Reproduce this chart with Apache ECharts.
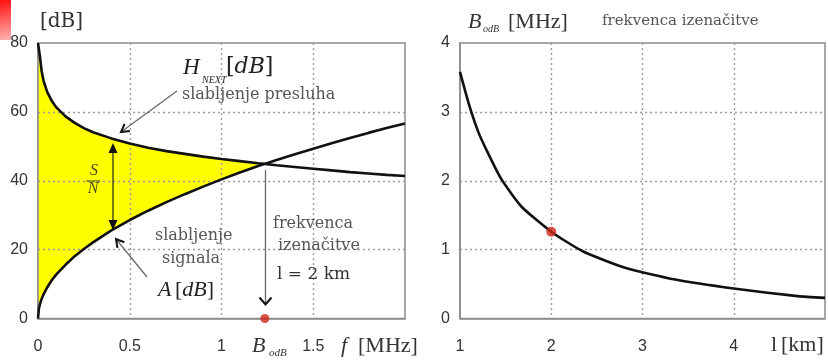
<!DOCTYPE html>
<html><head><meta charset="utf-8">
<script src="https://cdn.jsdelivr.net/npm/echarts@6/dist/echarts.min.js"></script>
<style>html,body{margin:0;padding:0;background:#fff}#c{width:828px;height:360px}</style>
</head><body><div id="c"></div>
<script>
// ---- data ----
const freqMHz = [0, 0.005, 0.01, 0.02, 0.03, 0.05, 0.075, 0.1, 0.15, 0.2, 0.25, 0.3, 0.4, 0.5, 0.6, 0.7, 0.8, 0.9, 1.0, 1.1, 1.2, 1.236, 1.3, 1.4, 1.5, 1.6, 1.7, 1.8, 1.9, 2.0];
const attenA = [0, 2.9, 4.0, 5.7, 7.0, 9.0, 11.1, 12.8, 15.6, 18.1, 20.2, 22.1, 25.6, 28.6, 31.3, 33.8, 36.1, 38.3, 40.4, 42.4, 44.3, 44.9, 46.0, 47.7, 49.3, 50.9, 52.4, 53.9, 55.3, 56.6];
const nextH = [80, 80, 76.3, 71.8, 69.1, 65.8, 63.2, 61.3, 58.7, 56.8, 55.3, 54.1, 52.3, 50.8, 49.6, 48.6, 47.8, 47.0, 46.3, 45.7, 45.1, 44.9, 44.5, 44.0, 43.5, 43.0, 42.5, 42.1, 41.7, 41.4];
const crossFreq = 1.236;           // B_odB for l = 2 km
const lengthKm = [1, 1.1, 1.2, 1.3, 1.45, 1.67, 2, 2.34, 2.8, 3.36, 4, 4.7, 5];
const bandwidthMHz = [3.58, 3.10, 2.71, 2.42, 2.03, 1.63, 1.26, 0.98, 0.74, 0.565, 0.435, 0.325, 0.30];
const markedLength = 2;
const leftXTickLabels = ['0', '0.5', '1', '1.5'];
const leftYTicks = [0, 20, 40, 60, 80];
const rightXTickLabels = ['1', '2', '3', '4'];
const rightYTicks = [0, 1, 2, 3, 4];

// ---- derived structures ----
const lineA = freqMHz.map((f, i) => [f, attenA[i]]);
const lineH = freqMHz.map((f, i) => [f, nextH[i]]);
const fillRows = freqMHz.map((f, i) => [f, attenA[i], nextH[i]]).filter(r => r[0] <= crossFreq);
const lineB = lengthKm.map((l, i) => [l, bandwidthMHz[i]]);
const markedB = lineB.find(p => p[0] === markedLength);

const tickFont = { fontFamily: '"Liberation Sans", Arial, sans-serif', fontSize: 16, color: '#333' };
const gridLine = { show: true, showMinLine: false, showMaxLine: false, lineStyle: { color: '#9a9a9a', width: 1.4, type: [2, 3] } };
const axisLn = { show: true, lineStyle: { color: '#8c8c8c', width: 1.5 } };

const chart = echarts.init(document.getElementById('c'), null, { renderer: 'canvas' });

const SERIF = '"DejaVu Serif", serif';
const MATH = '"Liberation Serif", "Times New Roman", serif';
function txt(x, y, text, font, fill, extra) {
  return Object.assign({ type: 'text', x, y, z: 100, style: Object.assign({
    text, font, fill: fill || '#555', align: 'left', verticalAlign: 'middle',
    textAlign: 'left', textVerticalAlign: 'middle' }, extra || {}) });
}
function seg(pts, color, w) {
  return { type: 'polyline', z: 100, shape: { points: pts }, style: { stroke: color, lineWidth: w, fill: null } };
}
function tri(pts) {
  return { type: 'polygon', z: 100, shape: { points: pts }, style: { fill: '#111' } };
}

const option = {
  animation: false,
  backgroundColor: '#fff',
  grid: [
    { left: 38, top: 43, width: 367, height: 275.5, show: true, borderColor: '#8c8c8c', borderWidth: 1.5, backgroundColor: 'transparent' },
    { left: 460, top: 43, width: 366, height: 275.5, show: true, borderColor: '#8c8c8c', borderWidth: 1.5, backgroundColor: 'transparent' }
  ],
  xAxis: [
    { gridIndex: 0, type: 'value', min: 0, max: 2, interval: 0.5, z: 3,
      axisLine: axisLn, axisTick: { show: false }, splitLine: gridLine,
      axisLabel: Object.assign({ margin: 20, formatter: v => { const i = Math.round(v / 0.5); return leftXTickLabels[i] !== undefined ? leftXTickLabels[i] : ''; } }, tickFont) },
    { gridIndex: 1, type: 'value', min: 1, max: 5, interval: 1, z: 3,
      axisLine: axisLn, axisTick: { show: false }, splitLine: gridLine,
      axisLabel: Object.assign({ margin: 20, formatter: v => { const i = Math.round(v - 1); return rightXTickLabels[i] !== undefined ? rightXTickLabels[i] : ''; } }, tickFont) }
  ],
  yAxis: [
    { gridIndex: 0, type: 'value', min: leftYTicks[0], max: leftYTicks[leftYTicks.length - 1], interval: 20, z: 3,
      axisLine: axisLn, axisTick: { show: false }, splitLine: gridLine,
      axisLabel: Object.assign({ margin: 10 }, tickFont) },
    { gridIndex: 1, type: 'value', min: rightYTicks[0], max: rightYTicks[rightYTicks.length - 1], interval: 1, z: 3,
      axisLine: axisLn, axisTick: { show: false }, splitLine: gridLine,
      axisLabel: Object.assign({ margin: 10 }, tickFont) }
  ],
  series: [
    { type: 'custom', xAxisIndex: 0, yAxisIndex: 0, z: 1, silent: true, clip: true,
      data: fillRows,
      renderItem: function (params, api) {
        if (params.dataIndex !== 0) return null;
        const top = fillRows.map(r => api.coord([r[0], r[2]]));
        const bottom = fillRows.slice().reverse().map(r => api.coord([r[0], r[1]]));
        return { type: 'polygon', shape: { points: top.concat(bottom) }, style: { fill: '#ffff00' } };
      }
    },
    { type: 'line', name: 'A', xAxisIndex: 0, yAxisIndex: 0, z: 5, data: lineA, symbol: 'none',
      lineStyle: { color: '#111', width: 2.6 } },
    { type: 'line', name: 'H', xAxisIndex: 0, yAxisIndex: 0, z: 5, data: lineH, symbol: 'none',
      lineStyle: { color: '#111', width: 2.6 } },
    { type: 'scatter', xAxisIndex: 0, yAxisIndex: 0, z: 6, clip: false, data: [[crossFreq, 0]],
      symbolSize: 9, itemStyle: { color: '#d0281c' } },
    { type: 'line', name: 'B', xAxisIndex: 1, yAxisIndex: 1, z: 5, data: lineB, symbol: 'none', smooth: 0.2,
      lineStyle: { color: '#111', width: 2.6 } },
    { type: 'scatter', xAxisIndex: 1, yAxisIndex: 1, z: 6, clip: false, data: [markedB],
      symbolSize: 10, itemStyle: { color: '#d0281c' } }
  ],
  graphic: [
    { type: 'rect', z: 100, shape: { x: 0, y: 0, width: 11, height: 40 },
      style: { fill: new echarts.graphic.LinearGradient(0, 0, 0.6, 1, [{ offset: 0, color: '#ff1010' }, { offset: 1, color: '#ffb0b0' }]) } },
    // left panel texts
    txt(40, 22, '[dB]', '20px ' + SERIF, '#333'),
    txt(183, 68, 'H', 'italic 23px ' + MATH, '#222'),
    txt(202, 80, 'NEXT', 'italic 10px ' + MATH, '#222'),
    { type: 'text', x: 226, y: 67, z: 100, style: { text: '{a|[}{b|dB}{a|]}', align: 'left', verticalAlign: 'middle',
      rich: { a: { font: '22px ' + SERIF, fill: '#222' }, b: { font: 'italic 22px ' + SERIF, fill: '#222' } } } },
    txt(182, 95, 'slabljenje presluha', '16px ' + SERIF, '#555'),
    seg([[177, 91], [121, 132]], '#666', 1.2),
    seg([[129.9, 131], [121, 132], [124.6, 123.8]], '#111', 2),
    txt(94, 171, 'S', 'italic 16px ' + MATH, '#4a4a20', { align: 'center', textAlign: 'center' }),
    seg([[86, 181], [100, 181]], '#4a4a20', 1),
    txt(93, 189, 'N', 'italic 16px ' + MATH, '#4a4a20', { align: 'center', textAlign: 'center' }),
    seg([[113, 150], [113, 223]], '#222', 1.2),
    tri([[113, 143], [108.5, 153], [117.5, 153]]),
    tri([[113, 230], [108.5, 220], [117.5, 220]]),
    txt(155, 236, 'slabljenje', '16px ' + SERIF, '#555'),
    txt(162, 259, 'signala', '16px ' + SERIF, '#555'),
    txt(158, 290, 'A', 'italic 22px ' + MATH, '#222'),
    { type: 'text', x: 175, y: 290, z: 100, style: { text: '{a|[}{b|dB}{a|]}', align: 'left', verticalAlign: 'middle',
      rich: { a: { font: '22px ' + MATH, fill: '#222' }, b: { font: 'italic 22px ' + MATH, fill: '#222' } } } },
    seg([[147, 277], [116, 239]], '#666', 1.2),
    seg([[117.4, 247.9], [116, 239], [124.4, 242.2]], '#111', 2),
    seg([[265.5, 170], [265.5, 304]], '#666', 1.3),
    seg([[259.5, 297.5], [265.5, 304.5], [271.5, 297.5]], '#111', 2),
    txt(273, 224, 'frekvenca', '16px ' + SERIF, '#555'),
    txt(278, 246, 'izenačitve', '16px ' + SERIF, '#555'),
    txt(277, 275, 'l = 2 km', '17px ' + SERIF, '#333'),
    txt(252, 346, 'B', 'italic 22px ' + MATH, '#333'),
    txt(269, 353, 'odB', 'italic 11px ' + MATH, '#333'),
    txt(341, 346, 'f', 'italic 22px ' + MATH, '#333'),
    txt(358, 346, '[MHz]', '22px ' + MATH, '#333'),
    // right panel texts
    txt(468, 22, 'B', 'italic 22px ' + MATH, '#333'),
    txt(483, 29, 'odB', 'italic 10px ' + MATH, '#333'),
    txt(508, 22, '[MHz]', '22px ' + MATH, '#333'),
    txt(602, 21, 'frekvenca izenačitve', '15px ' + SERIF, '#555'),
    txt(771, 345, 'l', '22px ' + MATH, '#333'),
    txt(781, 345, '[km]', '22px ' + MATH, '#333')
  ]
};
chart.setOption(option);
</script>
</body></html>
